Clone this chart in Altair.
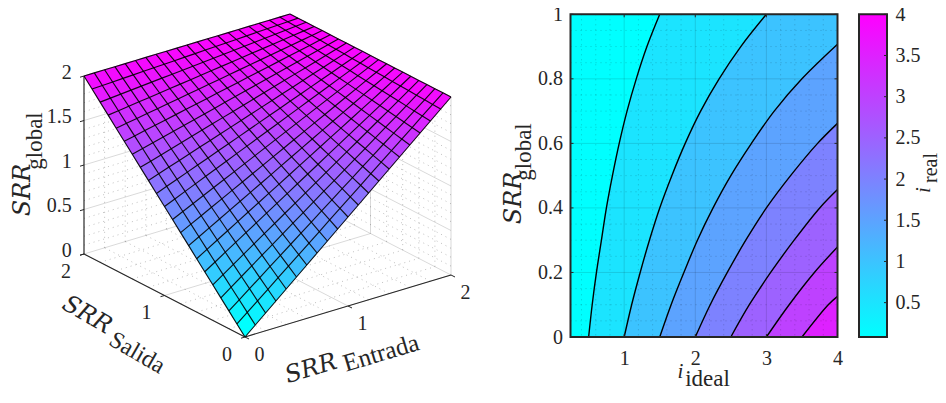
import altair as alt
import pandas as pd

# ---------- data ----------
SURFACE_AXIS = [i / 10 for i in range(21)]
Z = [
 [0,.1,.2,.3,.4,.5,.6,.7,.8,.9,1,1.1,1.2,1.3,1.4,1.5,1.6,1.7,1.8,1.9,2],
 [.1,.195,.29,.385,.48,.575,.67,.765,.86,.955,1.05,1.145,1.24,1.335,1.43,1.525,1.62,1.715,1.81,1.905,2],
 [.2,.29,.38,.47,.56,.65,.74,.83,.92,1.01,1.1,1.19,1.28,1.37,1.46,1.55,1.64,1.73,1.82,1.91,2],
 [.3,.385,.47,.555,.64,.725,.81,.895,.98,1.065,1.15,1.235,1.32,1.405,1.49,1.575,1.66,1.745,1.83,1.915,2],
 [.4,.48,.56,.64,.72,.8,.88,.96,1.04,1.12,1.2,1.28,1.36,1.44,1.52,1.6,1.68,1.76,1.84,1.92,2],
 [.5,.575,.65,.725,.8,.875,.95,1.025,1.1,1.175,1.25,1.325,1.4,1.475,1.55,1.625,1.7,1.775,1.85,1.925,2],
 [.6,.67,.74,.81,.88,.95,1.02,1.09,1.16,1.23,1.3,1.37,1.44,1.51,1.58,1.65,1.72,1.79,1.86,1.93,2],
 [.7,.765,.83,.895,.96,1.025,1.09,1.155,1.22,1.285,1.35,1.415,1.48,1.545,1.61,1.675,1.74,1.805,1.87,1.935,2],
 [.8,.86,.92,.98,1.04,1.1,1.16,1.22,1.28,1.34,1.4,1.46,1.52,1.58,1.64,1.7,1.76,1.82,1.88,1.94,2],
 [.9,.955,1.01,1.065,1.12,1.175,1.23,1.285,1.34,1.395,1.45,1.505,1.56,1.615,1.67,1.725,1.78,1.835,1.89,1.945,2],
 [1,1.05,1.1,1.15,1.2,1.25,1.3,1.35,1.4,1.45,1.5,1.55,1.6,1.65,1.7,1.75,1.8,1.85,1.9,1.95,2],
 [1.1,1.145,1.19,1.235,1.28,1.325,1.37,1.415,1.46,1.505,1.55,1.595,1.64,1.685,1.73,1.775,1.82,1.865,1.91,1.955,2],
 [1.2,1.24,1.28,1.32,1.36,1.4,1.44,1.48,1.52,1.56,1.6,1.64,1.68,1.72,1.76,1.8,1.84,1.88,1.92,1.96,2],
 [1.3,1.335,1.37,1.405,1.44,1.475,1.51,1.545,1.58,1.615,1.65,1.685,1.72,1.755,1.79,1.825,1.86,1.895,1.93,1.965,2],
 [1.4,1.43,1.46,1.49,1.52,1.55,1.58,1.61,1.64,1.67,1.7,1.73,1.76,1.79,1.82,1.85,1.88,1.91,1.94,1.97,2],
 [1.5,1.525,1.55,1.575,1.6,1.625,1.65,1.675,1.7,1.725,1.75,1.775,1.8,1.825,1.85,1.875,1.9,1.925,1.95,1.975,2],
 [1.6,1.62,1.64,1.66,1.68,1.7,1.72,1.74,1.76,1.78,1.8,1.82,1.84,1.86,1.88,1.9,1.92,1.94,1.96,1.98,2],
 [1.7,1.715,1.73,1.745,1.76,1.775,1.79,1.805,1.82,1.835,1.85,1.865,1.88,1.895,1.91,1.925,1.94,1.955,1.97,1.985,2],
 [1.8,1.81,1.82,1.83,1.84,1.85,1.86,1.87,1.88,1.89,1.9,1.91,1.92,1.93,1.94,1.95,1.96,1.97,1.98,1.99,2],
 [1.9,1.905,1.91,1.915,1.92,1.925,1.93,1.935,1.94,1.945,1.95,1.955,1.96,1.965,1.97,1.975,1.98,1.985,1.99,1.995,2],
 [2,2,2,2,2,2,2,2,2,2,2,2,2,2,2,2,2,2,2,2,2],
]
Z_TICKS = [0, 0.5, 1, 1.5, 2]
XY_TICKS = [0, 1, 2]

S_GRID = [0, .1, .2, .3, .4, .5, .6, .7, .8, .9, 1]
CONTOURS = {
    0.5: ([.50, .55, .61, .68, .75, .835, .93, 1.04, 1.17, 1.32, 1.50], S_GRID),
    1.0: ([1.0, 1.105, 1.225, 1.355, 1.50, 1.67, 1.858, 2.075, 2.335, 2.64, 3.0], S_GRID),
    1.5: ([1.5, 1.66, 1.84, 2.03, 2.25, 2.50, 2.79, 3.11, 3.50, 4.0], S_GRID[:9] + [.907]),
    2.0: ([2.0, 2.21, 2.45, 2.71, 3.0, 3.34, 3.72, 4.0], S_GRID[:7] + [.662]),
    2.5: ([2.5, 2.76, 3.06, 3.39, 3.75, 4.0], S_GRID[:5] + [.457]),
    3.0: ([3.0, 3.32, 3.675, 4.0], S_GRID[:3] + [.279]),
    3.5: ([3.5, 3.87, 4.0], S_GRID[:2] + [.126]),
}
I_MIN, I_MAX = 0.245, 4.0
C_MIN, C_MAX = 0.083, 4.0
I_TICKS = [1, 2, 3, 4]
S_TICKS = [0, .2, .4, .6, .8, 1]
C_TICKS = [.5, 1, 1.5, 2, 2.5, 3, 3.5, 4]

# ---------- styling / layout ----------
INK = "#262626"
SERIF = "Liberation Serif"
MATH = "DejaVu Serif"
W1, W2, W3, H = 540.5, 267, 28, 322.7
TOP, BOTTOM, LEFT = 14.3, 337.0, 8.0


def proj(e, s, z):
    return (245 + 103 * e - 80.5 * s, 337 - 31 * e - 41.5 * s - 89 * z)


px = alt.Scale(domain=[LEFT, LEFT + W1], nice=False, zero=False)
py = alt.Scale(domain=[BOTTOM, TOP], nice=False, zero=False)
PX = lambda f: alt.X(f, type="quantitative", scale=px, axis=None, title=None)
PY = lambda f: alt.Y(f, type="quantitative", scale=py, axis=None, title=None, stack=None)


def seg(rows, **mark):
    df = pd.DataFrame(rows, columns=["x", "y", "x2", "y2"])
    return alt.Chart(df).mark_rule(**mark).encode(
        x=PX("x"), y=PY("y"), x2=alt.X2("x2"), y2=alt.Y2("y2"))


def line3(a, b):
    p, q = proj(*a), proj(*b)
    return [p[0], p[1], q[0], q[1]]


# walls and floor grid
major, minor = [], []
for z in [.5, 1, 1.5, 2]:
    major += [line3((0, 2, z), (2, 2, z)), line3((2, 2, z), (2, 0, z))]
for k in [0, 1, 2]:
    major += [line3((k, 0, 0), (k, 2, 0)), line3((0, k, 0), (2, k, 0)),
              line3((k, 2, 0), (k, 2, 2)), line3((2, k, 0), (2, k, 2))]
for q in range(1, 20):
    if q % 5:
        z = q / 10
        minor += [line3((0, 2, z), (2, 2, z)), line3((2, 2, z), (2, 0, z))]
for q in range(1, 10):
    if q != 5:
        k = q / 5
        minor += [line3((k, 0, 0), (k, 2, 0)), line3((0, k, 0), (2, k, 0)),
                  line3((k, 2, 0), (k, 2, 2)), line3((2, k, 0), (2, k, 2))]
grid_major = seg(major, color="#000000", strokeOpacity=0.15, strokeWidth=1)
grid_minor = seg(minor, color="#000000", strokeOpacity=0.25, strokeWidth=1, strokeDash=[1, 4])

# surface faces
def quad_slices(pts):
    xs = sorted({round(p[0], 4) for p in pts})
    n = len(pts)
    out = []
    for x in xs:
        ys = []
        for i in range(n):
            a, b = pts[i], pts[(i + 1) % n]
            lo, hi = min(a[0], b[0]), max(a[0], b[0])
            if lo - 1e-3 <= x <= hi + 1e-3:
                if abs(b[0] - a[0]) < 1e-6:
                    ys += [a[1], b[1]]
                else:
                    ys.append(a[1] + (x - a[0]) / (b[0] - a[0]) * (b[1] - a[1]))
        out.append((x, min(ys), max(ys)))
    return out


rows = []
N = len(SURFACE_AXIS)
for i in range(N - 1):
    for j in range(N - 1):
        corners = [proj(SURFACE_AXIS[a], SURFACE_AXIS[b], Z[a][b])
                   for a, b in [(i, j), (i + 1, j), (i + 1, j + 1), (i, j + 1)]]
        for x, y0, y1 in quad_slices(corners):
            rows.append({"x": x, "y": y0, "y2": y1, "z": Z[i][j], "q": i * 100 + j})
faces = alt.Chart(pd.DataFrame(rows)).mark_area(orient="vertical", strokeWidth=0.4).encode(
    x=PX("x"), y=PY("y"), y2=alt.Y2("y2"),
    color=alt.Color("z:Q", scale=alt.Scale(domain=[0, 2], range=["#00ffff", "#ff00ff"],
                                           interpolate="rgb"), legend=None),
    stroke=alt.Stroke("z:Q", scale=alt.Scale(domain=[0, 2], range=["#00ffff", "#ff00ff"],
                                             interpolate="rgb"), legend=None),
    detail="q:N")

mesh_rows = []
for i in range(N):
    for j in range(N):
        a = proj(SURFACE_AXIS[i], SURFACE_AXIS[j], Z[i][j])
        b = proj(SURFACE_AXIS[j], SURFACE_AXIS[i], Z[j][i])
        mesh_rows.append({"x": a[0], "y": a[1], "k": f"a{i}", "o": j})
        mesh_rows.append({"x": b[0], "y": b[1], "k": f"b{i}", "o": j})
mesh = alt.Chart(pd.DataFrame(mesh_rows)).mark_line(color="#000000", strokeWidth=1.15, strokeOpacity=0.9).encode(
    x=PX("x"), y=PY("y"), detail="k:N", order="o:Q")

# 3D axes
axes_rows = [line3((0, 2, 0), (0, 2, 2)), line3((0, 2, 0), (0, 0, 0)), line3((0, 0, 0), (2, 0, 0))]
axes3 = seg(axes_rows, color=INK, strokeWidth=1.1)
tick_rows = []
for z in Z_TICKS:
    p = proj(0, 2, z)
    tick_rows.append([p[0] - 4, p[1] + 1.2, p[0], p[1]])
for k in XY_TICKS:
    p = proj(0, k, 0)
    tick_rows.append([p[0] - 4, p[1] + 1.2, p[0], p[1]])
    p = proj(k, 0, 0)
    tick_rows.append([p[0], p[1], p[0] + 4, p[1] + 2])
ticks3 = seg(tick_rows, color=INK, strokeWidth=1)


def labels(rows, align="center", size=20):
    df = pd.DataFrame(rows, columns=["x", "y", "t"])
    return alt.Chart(df).mark_text(font=SERIF, fontSize=size, color=INK, align=align,
                                   baseline="middle").encode(x=PX("x"), y=PY("y"), text="t:N")


ztxt = labels([[71.7, proj(0, 2, z)[1] - 3.5, f"{z:g}"] for z in Z_TICKS], align="right")
stxt = labels([[proj(0, k, 0)[0] - 18, proj(0, k, 0)[1] + 17.5, str(k)] for k in XY_TICKS])
etxt = labels([[proj(k, 0, 0)[0] + 14.5, proj(k, 0, 0)[1] + 18, str(k)] for k in XY_TICKS])


def word(text, x, y, angle, size=24, font=SERIF, italic=False):
    kw = {"fontStyle": "italic"} if italic else {}
    df = pd.DataFrame({"x": [x], "y": [y], "t": [text]})
    return alt.Chart(df).mark_text(font=font, fontSize=size, color=INK, angle=angle, align="center",
                                   baseline="middle", **kw).encode(x=PX("x"), y=PY("y"), text="t:N")


titles3 = [
    word("SRR", 311, 369, 343.3, 24, MATH, True), word("Entrada", 381, 353, 343.3, 25),
    word("SRR", 87, 315, 30, 24, MATH, True), word("Salida", 137, 353, 30, 24),
    word("SRR", 23, 190, 270, 24, MATH, True), word("global", 35, 141, 270, 23),
]

panel1 = alt.layer(grid_major, grid_minor, axes3, ticks3, faces, mesh, ztxt, stxt, etxt, *titles3).properties(
    width=W1, height=H).resolve_scale(color="independent", stroke="independent")

# ---------- contour panel ----------
cont_rows, band_rows = [], [
    {"level": C_MIN, "x": I_MIN, "x2": I_MAX, "s": 0.0},
    {"level": C_MIN, "x": I_MIN, "x2": I_MAX, "s": 1.0}]
for lev, (xs, ss) in CONTOURS.items():
    for o, (x, s) in enumerate(zip(xs, ss)):
        cont_rows.append({"level": lev, "x": x, "s": s, "o": o})
        band_rows.append({"level": lev, "x": x, "x2": I_MAX, "s": s})
cscale = alt.Scale(domain=[C_MIN, C_MAX], range=["#00ffff", "#ff00ff"], interpolate="rgb")
xs2 = alt.Scale(domain=[I_MIN, I_MAX], nice=False, zero=False)
ys2 = alt.Scale(domain=[0, 1], nice=False, zero=False)
AX = alt.Axis(values=I_TICKS, ticks=False, domain=False, grid=False, title=None, labelFont=SERIF,
              labelFontSize=20, labelColor=INK, labelPadding=11, labelFlush=False, format="~g")
AY = alt.Axis(values=S_TICKS, ticks=False, domain=False, grid=False, title=None, labelFont=SERIF,
              labelFontSize=20, labelColor=INK, labelPadding=8, format="~g")
X2 = lambda f: alt.X(f, type="quantitative", scale=xs2, axis=AX, title=None, stack=None)
Y2 = lambda f: alt.Y(f, type="quantitative", scale=ys2, axis=AY, title=None, stack=None)

bands = alt.Chart(pd.DataFrame(band_rows)).mark_area(orient="horizontal", interpolate="catmull-rom").encode(
    x=X2("x"), x2=alt.X2("x2"), y=Y2("s"),
    color=alt.Color("level:Q", scale=cscale, legend=None), detail="level:N")
clines = alt.Chart(pd.DataFrame(cont_rows)).mark_line(color="#000000", strokeWidth=1.4, interpolate="catmull-rom").encode(
    x=X2("x"), y=Y2("s"), detail="level:N", order="o:Q")

def vrules(vals, **mark):
    return alt.Chart(pd.DataFrame({"v": vals})).mark_rule(**mark).encode(
        x=X2("v"), y=alt.value(0), y2=alt.value(H))
def hrules(vals, **mark):
    return alt.Chart(pd.DataFrame({"v": vals})).mark_rule(**mark).encode(
        y=Y2("v"), x=alt.value(0), x2=alt.value(W2))

I_MINOR = [.4, .6, .8, 1.2, 1.4, 1.6, 1.8, 2.2, 2.4, 2.6, 2.8, 3.2, 3.4, 3.6, 3.8]
S_MINOR = [.05, .1, .15, .25, .3, .35, .45, .5, .55, .65, .7, .75, .85, .9, .95]
gm = [vrules(I_TICKS[:-1], color="#000000", strokeOpacity=0.12),
      hrules(S_TICKS[1:-1], color="#000000", strokeOpacity=0.12),
      vrules(I_MINOR, color="#000000", strokeOpacity=0.2, strokeDash=[1, 4]),
      hrules(S_MINOR, color="#000000", strokeOpacity=0.2, strokeDash=[1, 4])]


def tick_x(vals, y0, y1):
    return alt.Chart(pd.DataFrame({"v": vals})).mark_rule(color=INK, strokeWidth=1).encode(
        x=X2("v"), y=alt.value(y0), y2=alt.value(y1))
def tick_y(vals, x0, x1):
    return alt.Chart(pd.DataFrame({"v": vals})).mark_rule(color=INK, strokeWidth=1).encode(
        y=Y2("v"), x=alt.value(x0), x2=alt.value(x1))


def frame(w):
    return alt.Chart(pd.DataFrame({"a": [0]})).mark_rect(filled=False, stroke=INK, strokeWidth=2).encode(
        x=alt.value(0), x2=alt.value(w), y=alt.value(0), y2=alt.value(H))


def free_text(text, x, y, angle, size, font=SERIF, italic=False):
    kw = {"fontStyle": "italic"} if italic else {}
    return alt.Chart(pd.DataFrame({"t": [text]})).mark_text(
        font=font, fontSize=size, color=INK, angle=angle, align="center", baseline="middle", **kw
    ).encode(x=alt.value(x), y=alt.value(y), text="t:N")


X0, X3 = 570.0, 858.5
panel2 = alt.layer(
    bands, *gm, clines,
    tick_x(I_TICKS, 0, 3), tick_x(I_TICKS, H - 3, H),
    tick_y(S_TICKS, 0, 3), tick_y(S_TICKS, W2 - 3, W2),
    frame(W2),
    free_text("i", 680 - X0, 372 - TOP, 0, 21, SERIF, True),
    free_text("ideal", 707 - X0, 379 - TOP, 0, 23),
    free_text("SRR", 513 - X0, 198 - TOP, 270, 24, MATH, True),
    free_text("global", 523 - X0, 152 - TOP, 270, 23),
).properties(width=W2, height=H)

# ---------- colour bar ----------
ys3 = alt.Scale(domain=[C_MIN, C_MAX], nice=False, zero=False)
AC = alt.Axis(values=C_TICKS, ticks=False, domain=False, grid=False, title=None, orient="right",
              labelFont=SERIF, labelFontSize=20, labelColor=INK, labelPadding=8, format="~g")
cbar = alt.Chart(pd.DataFrame({"a": [C_MIN], "b": [C_MAX]})).mark_rect(
    color=alt.Gradient(gradient="linear", x1=0, x2=0, y1=1, y2=0,
                       stops=[alt.GradientStop(color="#00ffff", offset=0),
                              alt.GradientStop(color="#ff00ff", offset=1)])
).encode(x=alt.value(0), x2=alt.value(W3),
         y=alt.Y("a:Q", scale=ys3, axis=AC, title=None), y2=alt.Y2("b:Q"))
ctick = alt.Chart(pd.DataFrame({"v": C_TICKS})).mark_rule(color=INK, strokeWidth=1).encode(
    y=alt.Y("v:Q", scale=ys3, axis=AC, title=None), x=alt.value(W3 - 3), x2=alt.value(W3))
panel3 = alt.layer(
    cbar, ctick, frame(W3),
    free_text("i", 923 - X3, 190 - TOP, 270, 21, SERIF, True),
    free_text("real", 930 - X3, 168 - TOP, 270, 20),
).properties(width=W3, height=H)

chart = alt.hconcat(panel1, panel2, panel3, spacing=21.5, bounds="flush").properties(
    padding={"left": 0, "top": -3.7, "right": -3, "bottom": -3}
).resolve_scale(color="independent", x="independent", y="independent").configure_view(strokeWidth=0)

chart.save("out.html", embed_options={"renderer": "svg", "actions": False})
